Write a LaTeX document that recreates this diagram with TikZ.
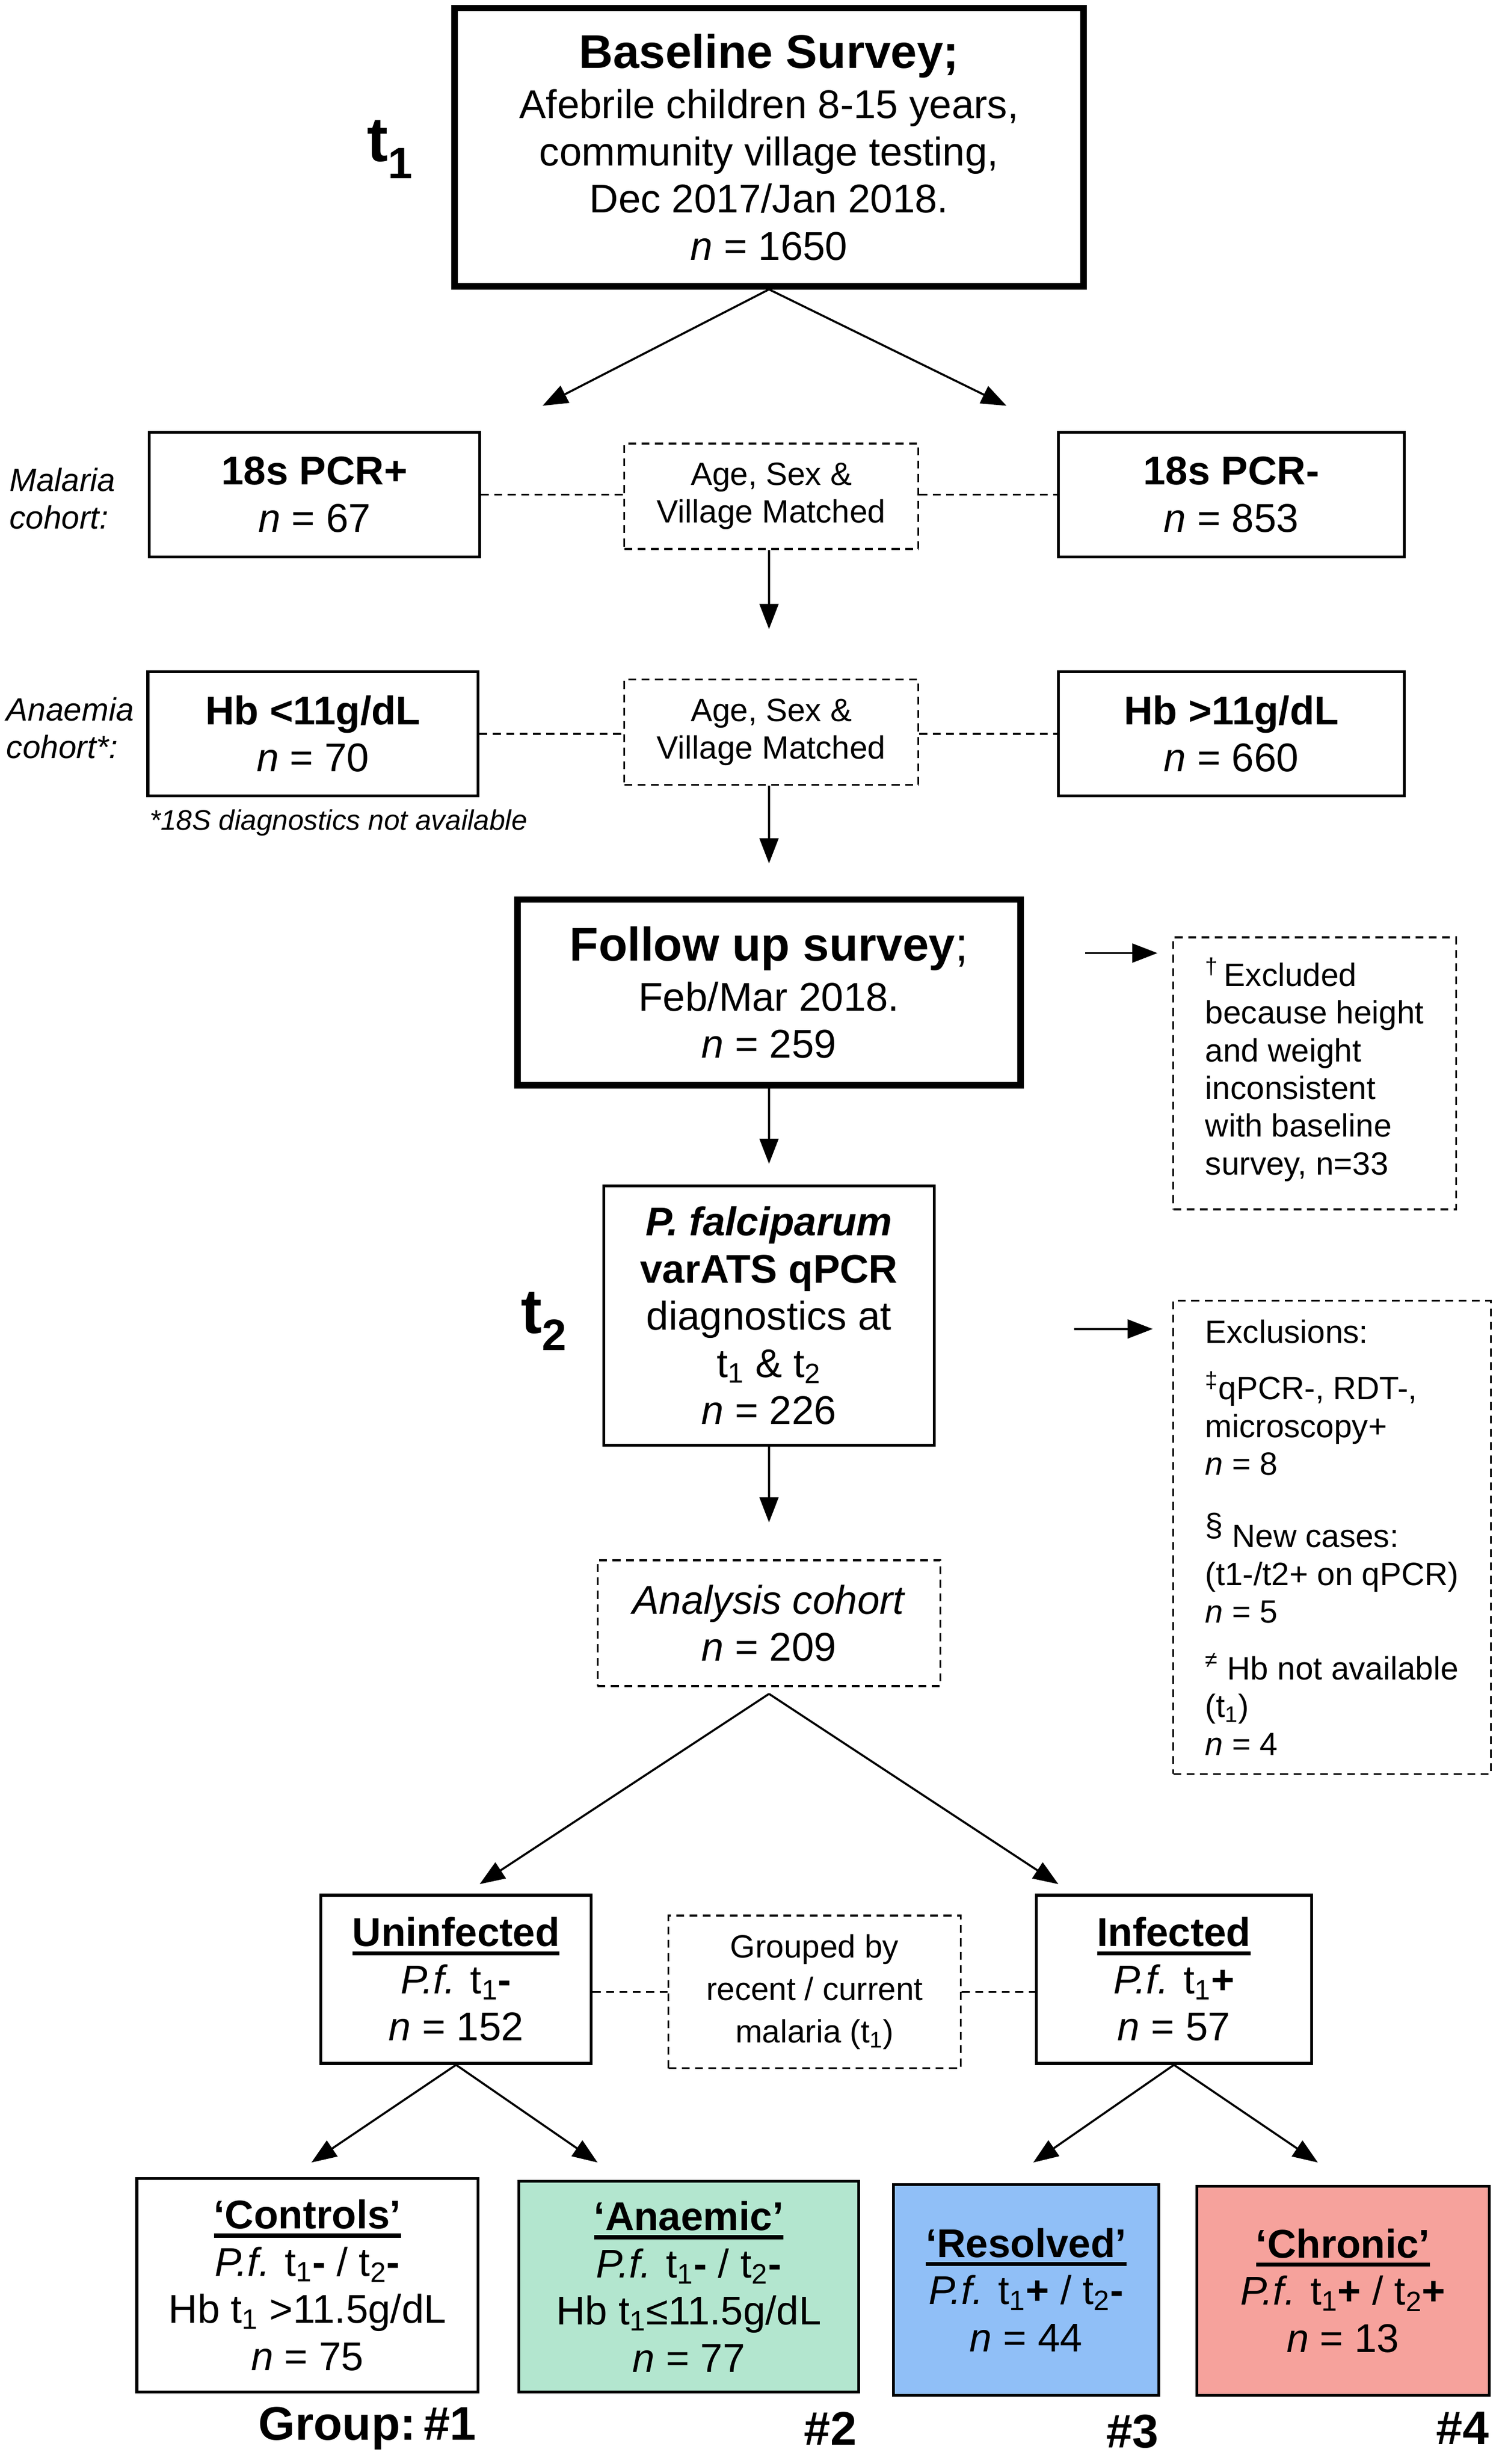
\documentclass[tikz,border=0pt]{standalone}
\usepackage{fontspec}
\setmainfont{Liberation Sans}
\usetikzlibrary{arrows.meta, positioning}
\definecolor{anaemic green}{HTML}{B3E6CF}
\definecolor{resolved blue}{HTML}{90BFF7}
\definecolor{chronic red}{HTML}{F6A29C}
\newcommand{\titlefont}{\fontsize{30}{32}\selectfont\bfseries}
\newcommand{\smallfont}{\fontsize{20.5}{24}\selectfont}
\newcommand{\timefont}{\fontsize{40}{40}\selectfont\bfseries}
\newcommand{\undl}[1]{\setbox0\hbox{#1}\leavevmode\rlap{\rule[-0.22em]{\wd0}{2.6pt}}\box0}
\tikzset{
plain box/.style = { rectangle, draw = black, line width = 1.8pt, fill = white, inner sep = 0pt, align = center, font = \fontsize{25.5}{30}\selectfont },
main box/.style = { plain box, line width = 4pt },
dash box/.style = { plain box, line width = 1.2pt, dash pattern = on 5pt off 3.5pt, font = \smallfont },
link/.style = { line width = 1.3pt, -{Triangle[length = 16pt, width = 12pt]} },
dash link/.style = { line width = 1.2pt, dash pattern = on 5pt off 3.5pt },
side label/.style = { anchor = west, inner sep = 0pt, align = left, font = \smallfont\itshape },
time label/.style = { inner sep = 0pt, font = \timefont },
group label/.style = { anchor = east, inner sep = 0pt, font = \titlefont },
}

\begin{document}
\begin{tikzpicture}[x = 1pt, y = -1pt]
      \useasboundingbox (0, 0) rectangle (957, 1566.7);
      % baseline survey (t1)
      \node[main box, minimum width = 400, minimum height = 177] (baseline) at (489, 93.5) {{\titlefont Baseline Survey;}\\[2pt] Afebrile children 8-15 years,\\ community village testing,\\ Dec 2017/Jan 2018.\\ \textit{n} = 1650};
      \node[time label] (t one) at (248, 95) {t\textsubscript{1}};
      % malaria cohort
      \node[plain box, minimum width = 210, minimum height = 79] (pcr pos) at (200, 314.5) {\textbf{18s PCR+}\\ \textit{n} = 67};
      \node[dash box, minimum width = 187, minimum height = 67] (match one) at (490.5, 315.5) {Age, Sex \&\\ Village Matched};
      \node[plain box, minimum width = 220, minimum height = 79] (pcr neg) at (783, 314.5) {\textbf{18s PCR-}\\ \textit{n} = 853};
      \node[side label] (malaria) at (6, 317) {Malaria\\ cohort:};
      % anaemia cohort
      \node[plain box, minimum width = 210, minimum height = 79] (hb low) at (199, 466.5) {\textbf{Hb <11g/dL}\\ \textit{n} = 70};
      \node[dash box, minimum width = 187, minimum height = 67] (match two) at (490.5, 465.5) {Age, Sex \&\\ Village Matched};
      \node[plain box, minimum width = 220, minimum height = 79] (hb high) at (783, 466.5) {\textbf{Hb >11g/dL}\\ \textit{n} = 660};
      \node[side label] (anaemia) at (4, 463) {Anaemia\\ cohort*:};
      \node[side label, font = \fontsize{18}{20}\selectfont\itshape] (no18s) at (95, 523) {*18S diagnostics not available};
      % follow up survey
      \node[main box, minimum width = 320, minimum height = 118] (follow up) at (489, 631) {{\titlefont Follow up survey}{\fontsize{30}{32}\selectfont;}\\[2pt] Feb/Mar 2018.\\ \textit{n} = 259};
      \node[dash box, align = left, minimum width = 180, minimum height = 173] (excl height) at (836, 682.5) {\textsuperscript{†}\,Excluded\\ because height\\ and weight\\ inconsistent\\ with baseline\\ survey, n=33\\[-15pt]};
      % qPCR (t2)
      \node[plain box, minimum width = 210, minimum height = 165] (qpcr) at (489, 836.5) {\textbf{\textit{P. falciparum}}\\ \textbf{varATS qPCR}\\ diagnostics at\\ t\textsubscript{1} \& t\textsubscript{2}\\ \textit{n} = 226};
      \node[time label] (t two) at (346, 840) {t\textsubscript{2}};
      \node[dash box, align = left, minimum width = 202, minimum height = 301] (excl qpcr) at (847, 977.5) {Exclusions:\\[12pt] \textsuperscript{‡}qPCR-, RDT-,\\ microscopy+\\ \textit{n} = 8\\[22pt] \raisebox{0.35em}{§} New cases:\\ (t1-/t2+ on qPCR)\\ \textit{n} = 5\\[12pt] \textsuperscript{≠} Hb not available\\ (t\textsubscript{1})\\ \textit{n} = 4};
      \node[dash box, minimum width = 218, minimum height = 80, font = \fontsize{25.5}{30}\selectfont] (cohort) at (489, 1032) {\textit{Analysis cohort}\\ \textit{n} = 209};
      % recent / current malaria
      \node[plain box, minimum width = 172, minimum height = 107] (uninfected) at (290, 1258.5) {\undl{\textbf{Uninfected}}\\ \textit{P.f.} t\textsubscript{1}\textbf{-}\\ \textit{n} = 152};
      \node[dash box, minimum width = 186, minimum height = 97, font = \fontsize{20.5}{27}\selectfont] (grouped) at (518, 1266.5) {Grouped by\\ recent / current\\ malaria (t\textsubscript{1})};
      \node[plain box, minimum width = 175, minimum height = 107] (infected) at (746.5, 1258.5) {\undl{\textbf{Infected}}\\ \textit{P.f.} t\textsubscript{1}\textbf{+}\\ \textit{n} = 57};
      % groups
      \node[plain box, minimum width = 217, minimum height = 136] (controls) at (195.5, 1453) {\undl{\textbf{‘Controls’}}\\ \textit{P.f.} t\textsubscript{1}\textbf{-} / t\textsubscript{2}\textbf{-}\\ Hb t\textsubscript{1} >11.5g/dL\\ \textit{n} = 75};
      \node[plain box, fill = anaemic green, minimum width = 216, minimum height = 134] (anaemic) at (438, 1454) {\undl{\textbf{‘Anaemic’}}\\ \textit{P.f.} t\textsubscript{1}\textbf{-} / t\textsubscript{2}\textbf{-}\\ Hb t\textsubscript{1}≤11.5g/dL\\ \textit{n} = 77};
      \node[plain box, fill = resolved blue, minimum width = 169, minimum height = 134] (resolved) at (652.5, 1456) {\undl{\textbf{‘Resolved’}}\\ \textit{P.f.} t\textsubscript{1}\textbf{+} / t\textsubscript{2}\textbf{-}\\ \textit{n} = 44};
      \node[plain box, fill = chronic red, minimum width = 186, minimum height = 133] (chronic) at (854, 1456.5) {\undl{\textbf{‘Chronic’}}\\ \textit{P.f.} t\textsubscript{1}\textbf{+} / t\textsubscript{2}\textbf{+}\\ \textit{n} = 13};
      \node[group label] (group one) at (303, 1544) {Group:\,\#1};
      \node[group label] (group two) at (545, 1544) {\#2};
      \node[group label] (group three) at (737, 1546) {\#3};
      \node[group label] (group four) at (947, 1544) {\#4};
      % free arrow ends
      \coordinate (split left) at (345, 258);
      \coordinate (split right) at (640, 258);
      \coordinate (match one end) at (489, 400);
      \coordinate (match two end) at (489, 549);
      \coordinate (follow up end) at (489, 740);
      \coordinate (qpcr end) at (489, 968);
      \coordinate (cohort fork) at (489, 1077);
      \coordinate (cohort left) at (305, 1198);
      \coordinate (cohort right) at (673, 1198);
      \coordinate (uninfected left) at (198, 1375);
      \coordinate (uninfected right) at (380, 1375);
      \coordinate (infected left) at (657, 1375);
      \coordinate (infected right) at (838, 1375);
      \coordinate (excl one start) at (690, 606);
      \coordinate (excl one end) at (736, 606);
      \coordinate (excl two start) at (683, 845);
      \coordinate (excl two end) at (733, 845);
      % connectors
      \draw[link] (baseline.south) -- (split left);
      \draw[link] (baseline.south) -- (split right);
      \draw[dash link] (pcr pos.east) -- (pcr pos.east -| match one.west);
      \draw[dash link] (match one.east |- pcr neg.west) -- (pcr neg.west);
      \draw[link] (match one end |- match one.south) -- (match one end);
      \draw[dash link] (hb low.east) -- (hb low.east -| match two.west);
      \draw[dash link] (match two.east |- hb high.west) -- (hb high.west);
      \draw[link] (match two end |- match two.south) -- (match two end);
      \draw[link] (follow up.south) -- (follow up end);
      \draw[link] (excl one start) -- (excl one end);
      \draw[link] (qpcr.south) -- (qpcr end);
      \draw[link] (excl two start) -- (excl two end);
      \draw[link] (cohort fork) -- (cohort left);
      \draw[link] (cohort fork) -- (cohort right);
      \draw[dash link] (grouped.west -| uninfected.east) -- (grouped.west);
      \draw[dash link] (grouped.east) -- (grouped.east -| infected.west);
      \draw[link] (uninfected.south) -- (uninfected left);
      \draw[link] (uninfected.south) -- (uninfected right);
      \draw[link] (infected.south) -- (infected left);
      \draw[link] (infected.south) -- (infected right);
    \end{tikzpicture}
\end{document}
